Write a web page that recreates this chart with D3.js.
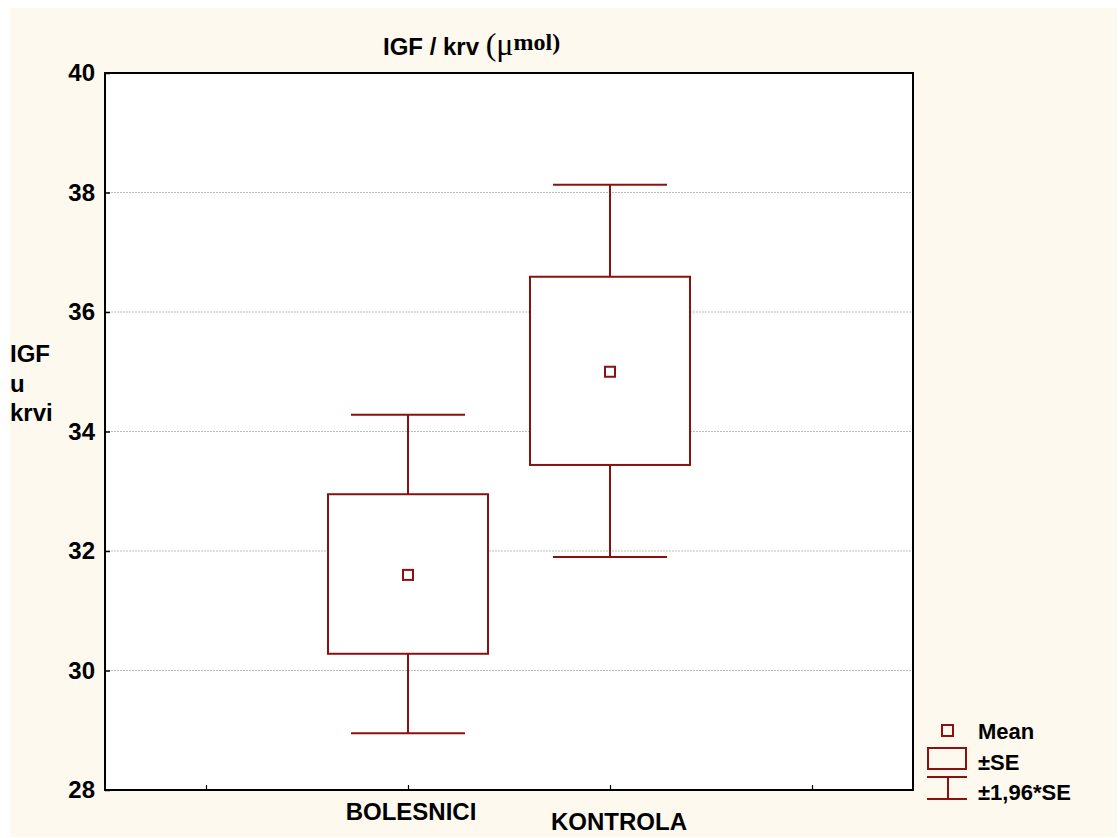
<!DOCTYPE html>
<html>
<head>
<meta charset="utf-8">
<script src="https://cdn.jsdelivr.net/npm/d3@7"></script>
<style>
  body { margin: 0; background: #fff; }
  text { font-family: "Liberation Sans", Arial, sans-serif; font-weight: bold; }
</style>
</head>
<body>
<script>
var width = 1118,
    height = 838

var slots = ["", "BOLESNICI", "KONTROLA", " "]
var groups = ["BOLESNICI", "KONTROLA"]
var means = [31.6, 35.0]
var seLow = [30.28, 33.44]
var seHigh = [32.95, 36.59]
var ciLow = [28.95, 31.90]
var ciHigh = [34.28, 38.13]
var yTicks = [28, 30, 32, 34, 36, 38, 40]

var margin = {top: 73, left: 105, right: 205, bottom: 48}
var red = "#8b1010"

var svg = d3.select("body").append("svg")
    .attr("width", width)
    .attr("height", height);

svg.append("rect")
    .attr("x", 10)
    .attr("y", 8)
    .attr("width", width - 11)
    .attr("height", height - 9)
    .attr("fill", "#fdf9ef");

var x = d3.scalePoint()
    .domain(slots)
    .range([margin.left, width - margin.right])
    .padding(0.5);

var y = d3.scaleLinear()
    .domain([28, 40])
    .range([height - margin.bottom, margin.top]);

svg.append("rect")
    .attr("x", margin.left)
    .attr("y", margin.top)
    .attr("width", width - margin.right - margin.left)
    .attr("height", height - margin.bottom - margin.top)
    .attr("fill", "#fff");

// grid
svg.selectAll(".grid")
    .data(yTicks.slice(1, -1))
  .enter().append("line")
    .attr("x1", margin.left)
    .attr("x2", width - margin.right)
    .attr("y1", function(d) { return y(d); })
    .attr("y2", function(d) { return y(d); })
    .attr("stroke", "#aaa")
    .attr("stroke-width", 0.8)
    .attr("stroke-dasharray", "2,1");

var yAxis = svg.append("g")
    .attr("transform", "translate(" + margin.left + ",0)")
    .call(d3.axisLeft(y).tickValues(yTicks).tickSize(-5).tickPadding(10));
yAxis.select(".domain").remove();
yAxis.selectAll("text").attr("font-size", 24).attr("fill", "#000").style("font-family", "Liberation Sans, Arial, sans-serif");
yAxis.selectAll("line").attr("stroke", "#000").attr("stroke-width", 1.5);

var xAxis = svg.append("g")
    .attr("transform", "translate(0," + (height - margin.bottom) + ")")
    .call(d3.axisTop(x).tickSize(5).tickFormat(""));
xAxis.select(".domain").remove();
xAxis.selectAll("line").attr("stroke", "#000").attr("stroke-width", 1.2);

// frame
svg.append("rect")
    .attr("x", margin.left)
    .attr("y", margin.top)
    .attr("width", width - margin.right - margin.left)
    .attr("height", height - margin.bottom - margin.top)
    .attr("fill", "none")
    .attr("stroke", "#000")
    .attr("stroke-width", 2);

// x labels, staggered
svg.selectAll(".xlab")
    .data(groups)
  .enter().append("text")
    .attr("x", function(d, i) { return x(d) + (i ? 9 : 3); })
    .attr("y", function(d, i) { return i ? 830 : 820; })
    .attr("text-anchor", "middle")
    .attr("font-size", 24)
    .text(function(d) { return d; });

var boxW = 80, capW = 57;

var g = svg.selectAll(".grp")
    .data(groups)
  .enter().append("g")
    .attr("fill", "none")
    .attr("stroke", red)
    .attr("stroke-width", 2);

g.append("line")
    .attr("x1", function(d) { return x(d); })
    .attr("x2", function(d) { return x(d); })
    .attr("y1", function(d, i) { return y(ciHigh[i]); })
    .attr("y2", function(d, i) { return y(ciLow[i]); });

g.append("line")
    .attr("x1", function(d) { return x(d) - capW; })
    .attr("x2", function(d) { return x(d) + capW; })
    .attr("y1", function(d, i) { return y(ciHigh[i]); })
    .attr("y2", function(d, i) { return y(ciHigh[i]); });

g.append("line")
    .attr("x1", function(d) { return x(d) - capW; })
    .attr("x2", function(d) { return x(d) + capW; })
    .attr("y1", function(d, i) { return y(ciLow[i]); })
    .attr("y2", function(d, i) { return y(ciLow[i]); });

g.append("rect")
    .attr("x", function(d) { return x(d) - boxW; })
    .attr("width", boxW * 2)
    .attr("y", function(d, i) { return y(seHigh[i]); })
    .attr("height", function(d, i) { return y(seLow[i]) - y(seHigh[i]); })
    .attr("fill", "#fff");

g.append("rect")
    .attr("x", function(d) { return x(d) - 5; })
    .attr("y", function(d, i) { return y(means[i]) - 5; })
    .attr("width", 10)
    .attr("height", 10)
    .attr("fill", "#fff");

// title
var title = svg.append("text")
    .attr("x", 383)
    .attr("y", 55)
    .attr("font-size", 24);
title.append("tspan").text("IGF / krv ");
title.append("tspan")
    .style("font-family", "Liberation Serif, serif")
    .attr("font-weight", "normal")
    .attr("font-size", 32)
    .text("(\u03bc");
title.append("tspan")
    .style("font-family", "Liberation Serif, serif")
    .attr("font-size", 24)
    .attr("dy", -5)
    .text("mol)");

// y label
svg.selectAll(".ylab")
    .data(["IGF", "u", "krvi"])
  .enter().append("text")
    .attr("x", 10)
    .attr("y", function(d, i) { return 362 + i * 29.5; })
    .attr("font-size", 24)
    .text(function(d) { return d; });

// legend
var lg = svg.append("g").attr("fill", "none").attr("stroke", red).attr("stroke-width", 2);
lg.append("rect").attr("x", 942).attr("y", 725).attr("width", 11).attr("height", 11);
lg.append("rect").attr("x", 928).attr("y", 748).attr("width", 38).attr("height", 21);
lg.append("line").attr("x1", 927).attr("x2", 967).attr("y1", 777).attr("y2", 777);
lg.append("line").attr("x1", 927).attr("x2", 967).attr("y1", 799).attr("y2", 799);
lg.append("line").attr("x1", 948).attr("x2", 948).attr("y1", 777).attr("y2", 799);

svg.selectAll(".ltext")
    .data(["Mean", "\u00b1SE", "\u00b11,96*SE"])
  .enter().append("text")
    .attr("x", 978)
    .attr("y", function(d, i) { return 739 + i * 30.5; })
    .attr("font-size", 22)
    .text(function(d) { return d; });
</script>
</body>
</html>
